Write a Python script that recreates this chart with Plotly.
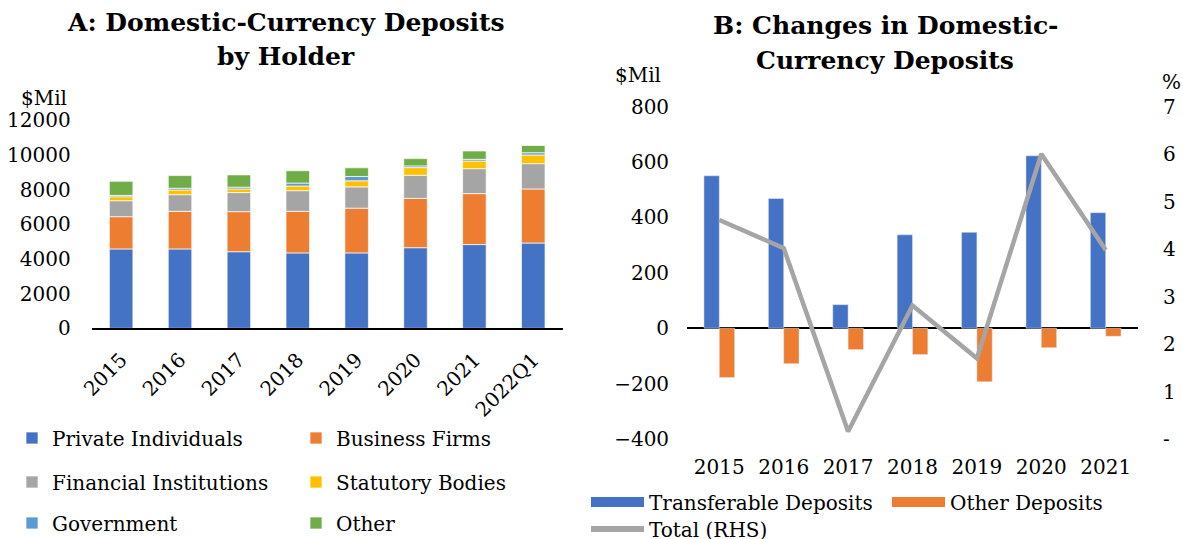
import plotly.graph_objects as go

W, H = 1183, 539
FONT = "DejaVu Serif"

# ---------- Panel A data ----------
periods_a = ["2015", "2016", "2017", "2018", "2019", "2020", "2021", "2022Q1"]
private_individuals = [4580, 4580, 4420, 4350, 4350, 4650, 4830, 4920]
business_firms = [1860, 2170, 2310, 2400, 2580, 2850, 2940, 3120]
financial_institutions = [920, 960, 1100, 1190, 1230, 1330, 1440, 1460]
statutory_bodies = [230, 270, 210, 270, 350, 440, 440, 500]
government = [80, 100, 100, 170, 250, 100, 100, 130]
other_holders = [810, 730, 710, 710, 500, 420, 480, 420]

# ---------- Panel B data ----------
years_b = ["2015", "2016", "2017", "2018", "2019", "2020", "2021"]
transferable_deposits = [550, 468, 85, 337, 346, 622, 417]
other_deposits = [-178, -128, -77, -95, -193, -70, -29]
total_rhs = [4.61, 4.02, 0.16, 2.81, 1.70, 6.00, 3.98]

rhs_tickvals = [0, 1, 2, 3, 4, 5, 6, 7]
rhs_ticktext = ["-", "1", "2", "3", "4", "5", "6", "7"]

C_BLUE = "#4472C4"
C_ORANGE = "#ED7D31"
C_GREY = "#A5A5A5"
C_YELLOW = "#FFC000"
C_LBLUE = "#5B9BD5"
C_GREEN = "#70AD47"

def px(x):
    return x / W

def py(y):
    return (H - y) / H

fig = go.Figure()

series_a = [
    ("Private Individuals", private_individuals, C_BLUE, "legend"),
    ("Business Firms", business_firms, C_ORANGE, "legend"),
    ("Financial Institutions", financial_institutions, C_GREY, "legend2"),
    ("Statutory Bodies", statutory_bodies, C_YELLOW, "legend2"),
    ("Government", government, C_LBLUE, "legend3"),
    ("Other", other_holders, C_GREEN, "legend3"),
]
for name, vals, col, lg in series_a:
    fig.add_trace(go.Bar(
        x=periods_a, y=vals, name=name, marker_color=col,
        marker_line=dict(color="rgba(255,255,255,0.7)", width=1),
        xaxis="x", yaxis="y", legend=lg,
    ))

bw = 0.238
fig.add_trace(go.Bar(
    x=years_b, y=transferable_deposits, name="Transferable Deposits",
    marker_color=C_BLUE, width=bw, offset=-bw, xaxis="x2", yaxis="y2",
    showlegend=False,
))
fig.add_trace(go.Bar(
    x=years_b, y=other_deposits, name="Other Deposits",
    marker_color=C_ORANGE, width=bw, offset=0, xaxis="x2", yaxis="y2",
    showlegend=False,
))
fig.add_trace(go.Scatter(
    x=years_b, y=total_rhs, name="Total (RHS)", mode="lines",
    line=dict(color=C_GREY, width=4.5), xaxis="x2", yaxis="y3",
    showlegend=False,
))
# legend entries for panel B (no marks drawn)
for name, col, lg in [("Transferable Deposits", C_BLUE, "legend4"),
                      ("Other Deposits", C_ORANGE, "legend4"),
                      ("Total (RHS)", C_GREY, "legend5")]:
    fig.add_trace(go.Scatter(
        x=[None], y=[None], mode="lines", name=name,
        line=dict(color=col, width=10 if lg == "legend4" else 6),
        xaxis="x2", yaxis="y2", legend=lg, showlegend=True,
    ))

tickfont = dict(family=FONT, size=20, color="black")

fig.update_layout(
    width=W, height=H,
    margin=dict(l=0, r=0, t=0, b=0, autoexpand=False),
    paper_bgcolor="white", plot_bgcolor="white",
    barmode="relative", bargap=0.6,
    font=dict(family=FONT, size=20, color="black"),
    xaxis=dict(domain=[px(91.7), px(562.7)], anchor="y",
               showline=True, linecolor="black", linewidth=2,
               ticks="", tickangle=-45, tickfont=tickfont,
               ticklabelstandoff=10, showgrid=False, automargin=False),
    yaxis=dict(domain=[py(328.3), py(120.3)], anchor="x",
               range=[0, 12000], tickvals=list(range(0, 12001, 2000)),
               tickformat="d",
               showgrid=False, showline=False, zeroline=False, ticks="",
               tickfont=tickfont, ticklabelstandoff=20, automargin=False),
    xaxis2=dict(domain=[px(687.1), px(1137.9)], anchor="y2",
                showline=False, ticks="", tickfont=tickfont, showgrid=False,
                ticklabelstandoff=14, range=[-0.5, 6.5], automargin=False),
    yaxis2=dict(domain=[py(439.1), py(106.5)], anchor="x2",
                range=[-400, 800], tickvals=[-400, -200, 0, 200, 400, 600, 800],
                tickformat="d",
                showgrid=False, showline=False, ticks="",
                zeroline=True, zerolinecolor="black", zerolinewidth=1.5,
                tickfont=tickfont, ticklabelstandoff=17, automargin=False),
    yaxis3=dict(domain=[py(439.1), py(106.5)], anchor="x2", overlaying="y2",
                side="right", range=[0, 7], tickvals=rhs_tickvals,
                ticktext=rhs_ticktext, showgrid=False, zeroline=False,
                showline=False, ticks="", tickfont=tickfont,
                ticklabelstandoff=24, automargin=False),
)

leg_common = dict(orientation="h", xanchor="left", yanchor="middle",
                  bgcolor="rgba(0,0,0,0)", font=dict(family=FONT, size=20),
                  traceorder="normal")
fig.update_layout(
    legend=dict(x=px(12), y=py(438), entrywidth=239, **leg_common),
    legend2=dict(x=px(12), y=py(482), entrywidth=239, **leg_common),
    legend3=dict(x=px(12), y=py(523), entrywidth=239, **leg_common),
    legend4=dict(x=px(586), y=py(502), entrywidth=233, itemwidth=53, **leg_common),
    legend5=dict(x=px(586), y=py(529), itemwidth=53, **leg_common),
)

title_font = dict(family=FONT, size=25, color="black", weight="bold")
annos = [
    ("A: Domestic-Currency Deposits", 286, 22, title_font),
    ("by Holder", 286, 56, title_font),
    ("B: Changes in Domestic-", 885, 26, title_font),
    ("Currency Deposits", 885, 61, title_font),
    ("$Mil", 44, 98, dict(family=FONT, size=20, color="black")),
    ("$Mil", 638, 75, dict(family=FONT, size=20, color="black")),
    ("%", 1171, 82, dict(family=FONT, size=20, color="black")),
]
for text, x, y, f in annos:
    fig.add_annotation(text=text, x=px(x), y=py(y), xref="paper", yref="paper",
                       xanchor="center", yanchor="middle", showarrow=False, font=f)

fig.write_html(
    "out.html",
    config={"displayModeBar": False},
    post_script="document.documentElement.style.margin='0';"
                "document.body.style.margin='0';"
                "document.body.style.overflow='hidden';",
)
